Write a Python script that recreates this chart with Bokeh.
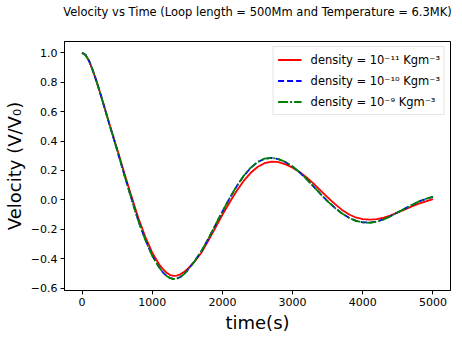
from bokeh.plotting import figure
from bokeh.models import ColumnDataSource, Legend, LegendItem, FixedTicker, CustomJSTickFormatter, Range1d, Title
from bokeh.embed import file_html
from bokeh.resources import INLINE

time_s = [0, 50, 100, 150, 200, 250, 300, 350, 400, 500, 600, 700, 800, 900,
          1000, 1100, 1150, 1200, 1250, 1300, 1350, 1400, 1450, 1500, 1600, 1700, 1800, 1900,
          2000, 2100, 2200, 2300, 2400, 2500, 2600, 2700, 2800, 2900,
          3000, 3100, 3200, 3300, 3400, 3500, 3600, 3700, 3800, 3900,
          4000, 4100, 4200, 4300, 4400, 4500, 4600, 4700, 4800, 4900, 5000]

vel_1e11 = [1.000, 0.985, 0.945, 0.885, 0.815, 0.740, 0.660, 0.580, 0.500, 0.345, 0.185, 0.030, -0.120, -0.250,
            -0.360, -0.440, -0.470, -0.494, -0.510, -0.517, -0.516, -0.507, -0.492, -0.472, -0.422, -0.360, -0.277, -0.190,
            -0.102, -0.020, 0.058, 0.127, 0.182, 0.223, 0.249, 0.260, 0.256, 0.241,
            0.219, 0.189, 0.152, 0.110, 0.063, 0.016, -0.028, -0.067, -0.098, -0.120,
            -0.131, -0.135, -0.131, -0.121, -0.105, -0.086, -0.065, -0.045, -0.026, -0.010, 0.004]

vel_1e10 = [1.000, 0.985, 0.945, 0.885, 0.815, 0.740, 0.660, 0.578, 0.497, 0.338, 0.174, 0.014, -0.140, -0.270,
            -0.380, -0.460, -0.492, -0.515, -0.531, -0.538, -0.536, -0.525, -0.506, -0.481, -0.420, -0.350, -0.265, -0.172,
            -0.080, 0.008, 0.089, 0.160, 0.216, 0.256, 0.279, 0.285, 0.276, 0.256,
            0.226, 0.186, 0.140, 0.090, 0.039, -0.010, -0.053, -0.091, -0.121, -0.142,
            -0.153, -0.155, -0.148, -0.132, -0.110, -0.085, -0.060, -0.035, -0.012, 0.006, 0.020]

vel_1e9 = [1.000, 0.985, 0.945, 0.885, 0.815, 0.740, 0.660, 0.578, 0.497, 0.338, 0.173, 0.013, -0.141, -0.271,
           -0.381, -0.461, -0.493, -0.516, -0.532, -0.539, -0.537, -0.526, -0.507, -0.481, -0.420, -0.349, -0.264, -0.171,
           -0.079, 0.009, 0.090, 0.161, 0.217, 0.257, 0.280, 0.286, 0.277, 0.257,
           0.227, 0.187, 0.140, 0.090, 0.039, -0.011, -0.054, -0.092, -0.122, -0.143,
           -0.154, -0.156, -0.149, -0.133, -0.111, -0.085, -0.060, -0.035, -0.011, 0.007, 0.021]

x_ticks = [0, 1000, 2000, 3000, 4000, 5000]
y_ticks = [-0.6, -0.4, -0.2, 0.0, 0.2, 0.4, 0.6, 0.8, 1.0]

title_text = "Velocity vs Time (Loop length = 500Mm and Temperature = 6.3MK)"
labels = ["density = 10\u207b\u00b9\u00b9 Kgm\u207b\u00b3",
          "density = 10\u207b\u00b9\u2070 Kgm\u207b\u00b3",
          "density = 10\u207b\u2079 Kgm\u207b\u00b3"]

src = ColumnDataSource(dict(t=time_s, a=vel_1e11, b=vel_1e10, c=vel_1e9))

p = figure(frame_width=386, frame_height=249, output_backend="svg", toolbar_location=None,
           title=None,
           x_range=Range1d(-250, 5250), y_range=Range1d(-0.617, 1.077),
           min_border_left=57, min_border_right=3, min_border_top=41, min_border_bottom=41)

spacer = Title(text=" ", text_font_size="1px", standoff=20)
p.add_layout(spacer, "above")
main_title = Title(text=title_text, text_font="DejaVu Sans", text_font_size="11.5px",
                   text_font_style="normal", text_color="black", align="center",
                   offset=-6, standoff=0)
p.add_layout(main_title, "above")

r1 = p.line("t", "a", source=src, line_color="#ff0000", line_width=1.8)
r2 = p.line("t", "b", source=src, line_color="#0000ff", line_width=1.8, line_dash="6 3")
r3 = p.line("t", "c", source=src, line_color="#008000", line_width=1.8, line_dash="10 2 2 2")

p.xgrid.visible = False
p.ygrid.visible = False
p.background_fill_color = "white"
p.border_fill_color = "white"
p.outline_line_color = "black"
p.outline_line_width = 1
p.outline_line_alpha = 1

for ax in (p.xaxis[0], p.yaxis[0]):
    ax.axis_line_color = "black"
    ax.major_tick_line_color = "black"
    ax.major_tick_in = 0
    ax.major_tick_out = 4
    ax.minor_tick_line_color = None
    ax.major_label_text_font = "DejaVu Sans"
    ax.major_label_text_font_size = "11px"
    ax.major_label_text_color = "black"
    ax.major_label_standoff = 3
    ax.axis_label_text_font = "DejaVu Sans"
    ax.axis_label_text_font_size = "18px"
    ax.axis_label_text_font_style = "normal"
    ax.axis_label_text_color = "black"
    ax.axis_label_standoff = 3

p.xaxis[0].ticker = FixedTicker(ticks=x_ticks)
p.yaxis[0].ticker = FixedTicker(ticks=y_ticks)
p.yaxis[0].formatter = CustomJSTickFormatter(code="return tick.toFixed(1).replace('-', '\u2212');")
p.xaxis[0].axis_label = "time(s)"
p.yaxis[0].axis_label = "Velocity (V/V\u2080)"

legend = Legend(items=[LegendItem(label=labels[0], renderers=[r1]),
                       LegendItem(label=labels[1], renderers=[r2]),
                       LegendItem(label=labels[2], renderers=[r3])],
                location="top_right")
legend.label_text_font = "DejaVu Sans"
legend.label_text_font_size = "11.5px"
legend.label_text_color = "black"
legend.glyph_width = 24
legend.glyph_height = 17
legend.label_height = 17
legend.label_standoff = 9
legend.spacing = 4
legend.padding = 4
legend.margin = 5
legend.border_line_color = "#cccccc"
legend.border_line_width = 1
legend.background_fill_alpha = 0.8
p.add_layout(legend)

open("out.html", "w").write(file_html(p, INLINE))
